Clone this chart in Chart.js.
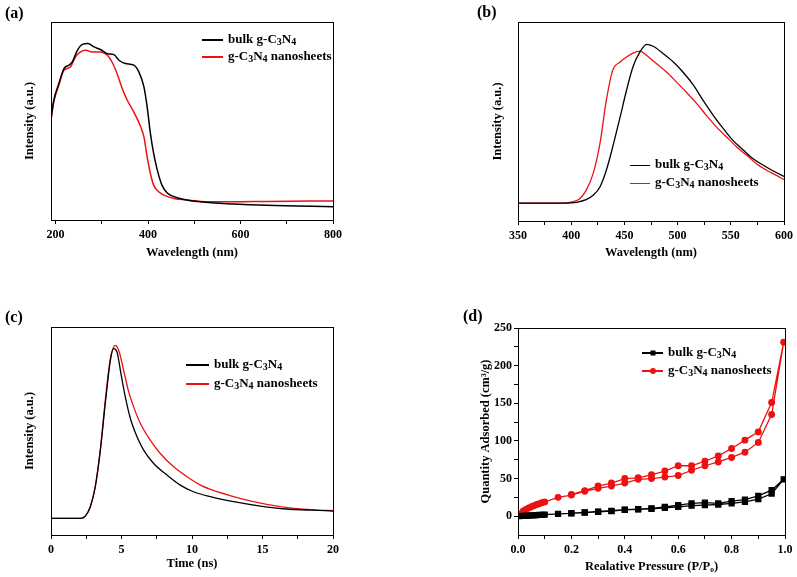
<!DOCTYPE html>
<html>
<head>
<meta charset="utf-8">
<script src="https://cdn.jsdelivr.net/npm/chart.js@4.4.1/dist/chart.umd.min.js"></script>
<style>
  body { margin: 0; background: #fff; }
  #page { position: relative; width: 797px; height: 577px; overflow: hidden; font-family: 'Liberation Serif', 'Times New Roman', serif; font-weight: bold; color: #000; }
  canvas { position: absolute; }
  .tag { position: absolute; font-size: 16px; line-height: 18px; }
  .leg { position: absolute; height: 18px; line-height: 18px; font-size: 13px; white-space: nowrap; }
  .leg .ln { position: relative; display: inline-block; height: 1.6px; margin-right: 5px; vertical-align: middle; }
  .leg .mk { position: absolute; left: 50%; top: 50%; transform: translate(-50%, -50%); }
  .leg sub { font-size: 10px; position: relative; top: 2px; vertical-align: baseline; line-height: 0; }
</style>
</head>
<body>
<div id="page">
  <canvas id="chartA" width="398" height="285" style="left:0;top:0"></canvas>
  <canvas id="chartB" width="399" height="285" style="left:398px;top:0"></canvas>
  <canvas id="chartC" width="398" height="292" style="left:0;top:285px"></canvas>
  <canvas id="chartD" width="399" height="292" style="left:398px;top:285px"></canvas>

  <div class="tag" style="left:5px;top:4px">(a)</div>
  <div class="tag" style="left:477px;top:3px">(b)</div>
  <div class="tag" style="left:5px;top:308px">(c)</div>
  <div class="tag" style="left:463px;top:307px">(d)</div>

  <div class="leg" style="left:202px;top:30px"><span class="ln" style="width:21px;background:#000"></span><span>bulk g-C<sub>3</sub>N<sub>4</sub></span></div>
  <div class="leg" style="left:202px;top:47px"><span class="ln" style="width:21px;background:#ee1111"></span><span>g-C<sub>3</sub>N<sub>4</sub> nanosheets</span></div>

  <div class="leg" style="left:630px;top:155px"><span class="ln" style="width:20px;height:1px;background:#000"></span><span>bulk g-C<sub>3</sub>N<sub>4</sub></span></div>
  <div class="leg" style="left:630px;top:173px"><span class="ln" style="width:20px;height:1px;background:#ee1111"></span><span>g-C<sub>3</sub>N<sub>4</sub> nanosheets</span></div>

  <div class="leg" style="left:186px;top:355px"><span class="ln" style="width:23px;background:#000"></span><span>bulk g-C<sub>3</sub>N<sub>4</sub></span></div>
  <div class="leg" style="left:186px;top:374px"><span class="ln" style="width:23px;background:#ee1111"></span><span>g-C<sub>3</sub>N<sub>4</sub> nanosheets</span></div>

  <div class="leg" style="left:642px;top:343px"><span class="ln" style="width:21px;background:#000"><span class="mk" style="width:5px;height:5px;background:#000"></span></span><span>bulk g-C<sub>3</sub>N<sub>4</sub></span></div>
  <div class="leg" style="left:642px;top:361px"><span class="ln" style="width:21px;background:#ee1111"><span class="mk" style="width:6px;height:6px;border-radius:50%;background:#ee1111"></span></span><span>g-C<sub>3</sub>N<sub>4</sub> nanosheets</span></div>
</div>
<script>
// Colors
const bulkColor = '#000000';
const nanoColor = '#ee1111';
const fontFamily = "'Liberation Serif', 'Times New Roman', serif";

// (a) UV-vis absorption, wavelength (nm) vs normalized intensity
const uvTicks = [200, 300, 400, 500, 600, 700, 800];
const uvBulkX = [190.6, 196, 207, 218, 229, 236, 247, 258, 270, 283, 297, 312, 326, 337, 351, 369, 380, 391, 398, 405, 412, 420, 430, 441, 456, 477, 513, 585, 657, 800];
const uvBulkY = [0.521, 0.605, 0.689, 0.765, 0.782, 0.798, 0.857, 0.887, 0.891, 0.874, 0.861, 0.840, 0.835, 0.807, 0.790, 0.782, 0.748, 0.672, 0.571, 0.437, 0.336, 0.252, 0.176, 0.138, 0.118, 0.104, 0.092, 0.081, 0.074, 0.067];
const uvNanoX = [190.6, 196, 207, 218, 232, 243, 254, 265, 279, 297, 312, 322, 333, 344, 355, 369, 384, 391, 398, 405, 412, 423, 434, 456, 485, 513, 585, 657, 800];
const uvNanoY = [0.513, 0.597, 0.681, 0.756, 0.773, 0.824, 0.849, 0.857, 0.849, 0.849, 0.832, 0.798, 0.739, 0.664, 0.605, 0.546, 0.471, 0.420, 0.319, 0.235, 0.176, 0.143, 0.126, 0.109, 0.101, 0.094, 0.092, 0.094, 0.096];

// (b) PL emission
const plTicks = [350, 375, 400, 425, 450, 475, 500, 525, 550, 575, 600];
const plBulkX = [350, 395.5, 405, 414, 420.6, 427, 433, 439, 446, 452, 458, 464.5, 471, 477, 486.5, 496, 505, 515, 524, 533.5, 543, 552, 562, 571, 580.6, 590, 600];
const plBulkY = [0.090, 0.090, 0.094, 0.107, 0.129, 0.171, 0.255, 0.372, 0.523, 0.657, 0.774, 0.849, 0.888, 0.878, 0.841, 0.799, 0.749, 0.682, 0.606, 0.531, 0.464, 0.405, 0.355, 0.313, 0.280, 0.251, 0.224];
const plNanoX = [350, 392, 402, 408, 414, 420.6, 427, 433, 439, 446, 452, 458, 464.5, 471, 480, 489.6, 499, 508, 518, 527, 536.6, 546, 555.5, 565, 574, 583.7, 593, 600];
const plNanoY = [0.090, 0.090, 0.097, 0.112, 0.154, 0.238, 0.389, 0.606, 0.757, 0.799, 0.824, 0.844, 0.854, 0.832, 0.791, 0.749, 0.698, 0.648, 0.590, 0.531, 0.472, 0.422, 0.372, 0.330, 0.288, 0.255, 0.229, 0.208];

// (c) time-resolved PL decay
const trTicks = [0, 2.5, 5, 7.5, 10, 12.5, 15, 17.5, 20];
const trBulkX = [0, 2.08, 2.43, 2.79, 3.14, 3.5, 3.85, 4.21, 4.44, 4.68, 4.96, 5.27, 5.63, 6.10, 6.57, 7.28, 8.23, 9.17, 10.1, 11.3, 12.95, 14.85, 16.7, 18.4, 20];
const trBulkY = [0.080, 0.080, 0.091, 0.136, 0.232, 0.408, 0.632, 0.840, 0.896, 0.880, 0.776, 0.664, 0.560, 0.472, 0.408, 0.344, 0.288, 0.240, 0.208, 0.184, 0.160, 0.139, 0.125, 0.120, 0.115];
const trNanoX = [0, 2.08, 2.43, 2.79, 3.14, 3.5, 3.85, 4.21, 4.56, 4.80, 5.15, 5.51, 5.86, 6.34, 7.04, 7.75, 8.70, 9.65, 10.6, 11.8, 13.4, 15.3, 17.2, 18.9, 20];
const trNanoY = [0.080, 0.080, 0.091, 0.136, 0.232, 0.411, 0.648, 0.848, 0.912, 0.888, 0.792, 0.688, 0.616, 0.536, 0.456, 0.392, 0.328, 0.280, 0.240, 0.208, 0.176, 0.147, 0.128, 0.120, 0.117];

// (d) N2 isotherms: adsorption branch then desorption branch
const betXTicks = [0, 0.1, 0.2, 0.3, 0.4, 0.5, 0.6, 0.7, 0.8, 0.9, 1.0];
const betYTicks = [0, 25, 50, 75, 100, 125, 150, 175, 200, 225, 250];
const adsP = [0.005, 0.02, 0.03, 0.04, 0.05, 0.06, 0.07, 0.08, 0.09, 0.1, 0.15, 0.2, 0.25, 0.3, 0.35, 0.4, 0.45, 0.5, 0.55, 0.6, 0.65, 0.7, 0.75, 0.8, 0.85, 0.9, 0.95, 0.995];
const desP = [0.95, 0.9, 0.85, 0.8, 0.75, 0.7, 0.65, 0.6, 0.55, 0.5, 0.45, 0.4, 0.35, 0.3, 0.25, 0.2];
const bulkAds = [0, 0.3, 0.5, 0.8, 1, 1.2, 1.4, 1.6, 1.8, 2, 3, 3.6, 4.8, 5.8, 6.8, 8.3, 9, 9.8, 11, 12.4, 14, 14.6, 15.5, 17, 19, 22.5, 30, 49];
const bulkDes = [34.5, 27, 22, 20, 17, 18, 17, 14.6, 12.4, 10.5, 9.5, 8.8, 7.2, 6.2, 5, 4];
const nanoAds = [3, 7, 9, 11, 12.5, 14, 15.5, 16.5, 18, 19, 25, 28, 33, 37, 40, 44, 49, 50, 52, 54, 61, 67, 72, 78, 85, 98, 135, 231];
const nanoDes = [151, 112, 101, 90, 80, 73, 67, 67, 60, 55, 51, 50, 44, 40, 34, 29];

const xy = (xs, ys) => xs.map((x, i) => ({ x, y: ys[i] }));
const near = (v, step) => Math.abs(v / step - Math.round(v / step)) < 1e-6;

// full frame round the plot area
const boxPlugin = {
    id: 'box',
    afterDraw(chart) {
        const { ctx, chartArea: a } = chart;
        ctx.save();
        ctx.strokeStyle = '#000';
        ctx.lineWidth = 1;
        ctx.strokeRect(Math.round(a.left) + 0.5, Math.round(a.top) + 0.5, Math.round(a.right - a.left), Math.round(a.bottom - a.top));
        ctx.restore();
    }
};

function makePanel(id, p) {
    const canvas = document.getElementById(id);
    const w = canvas.width, h = canvas.height;
    const xH = h - p.area.b;
    const tickFont = { family: fontFamily, size: 12, weight: 'bold' };
    const titleFont = { family: fontFamily, size: 12.5, weight: 'bold' };

    const yScale = {
        type: 'linear',
        min: p.yMin, max: p.yMax,
        title: { display: true, text: p.yTitle, color: '#000', font: titleFont, padding: { top: p.yTitleX - 7.5, bottom: 0 } },
        afterFit: s => { s.width = p.area.l; s.paddingTop = 0; s.paddingBottom = 0; }
    };
    if (p.yTicks) {
        yScale.afterBuildTicks = s => { s.ticks = p.yTicks.map(v => ({ value: v })); };
        yScale.ticks = { autoSkip: false, padding: 2, color: '#000', font: tickFont,
            callback: v => near(v, p.yMajor) ? v : '' };
        yScale.grid = { drawOnChartArea: false, tickLength: 4, color: '#000' };
    } else {
        yScale.ticks = { display: false };
        yScale.grid = { display: false };
    }
    yScale.border = { display: false };

    new Chart(canvas.getContext('2d'), {
        type: 'line',
        data: { datasets: p.datasets },
        options: {
            responsive: false,
            animation: false,
            events: [],
            layout: { padding: { left: 0, top: p.area.t, right: w - p.area.r, bottom: 0 } },
            plugins: { legend: { display: false }, tooltip: { enabled: false } },
            scales: {
                x: {
                    type: 'linear',
                    min: p.xMin, max: p.xMax,
                    afterBuildTicks: s => { s.ticks = p.xTicks.map(v => ({ value: v })); },
                    ticks: { autoSkip: false, maxRotation: 0, padding: 4, color: '#000', font: tickFont,
                        callback: v => near(v, p.xMajor) ? p.xFmt(v) : '' },
                    grid: { drawOnChartArea: false, tickLength: 4, color: '#000' },
                    border: { display: false },
                    title: { display: true, text: p.xTitle, color: '#000', font: titleFont, padding: { top: 0, bottom: h - p.xTitleY - 7.5 } },
                    afterFit: s => { s.height = xH; s.paddingLeft = 0; s.paddingRight = 0; }
                },
                y: yScale
            }
        },
        plugins: [boxPlugin]
    });
}

const curve = (data, color, width) => ({
    data, borderColor: color, borderWidth: width, pointRadius: 0,
    cubicInterpolationMode: 'monotone', fill: false
});

makePanel('chartA', {
    area: { l: 51, t: 22, r: 333, b: 220 },
    xMin: 190, xMax: 800, xTicks: uvTicks, xMajor: 200, xFmt: v => v,
    yMin: 0, yMax: 1,
    xTitle: 'Wavelength (nm)', xTitleY: 253,
    yTitle: 'Intensity (a.u.)', yTitleX: 30,
    datasets: [curve(xy(uvBulkX, uvBulkY), bulkColor, 1.5), curve(xy(uvNanoX, uvNanoY), nanoColor, 1.5)]
});

makePanel('chartB', {
    area: { l: 120, t: 22, r: 386, b: 221 },
    xMin: 350, xMax: 600, xTicks: plTicks, xMajor: 50, xFmt: v => v,
    yMin: 0, yMax: 1,
    xTitle: 'Wavelength (nm)', xTitleY: 253,
    yTitle: 'Intensity (a.u.)', yTitleX: 100,
    datasets: [curve(xy(plBulkX, plBulkY), bulkColor, 1.3), curve(xy(plNanoX, plNanoY), nanoColor, 1.3)]
});

makePanel('chartC', {
    area: { l: 51, t: 42, r: 333, b: 250 },
    xMin: 0, xMax: 20, xTicks: trTicks, xMajor: 5, xFmt: v => v,
    yMin: 0, yMax: 1,
    xTitle: 'Time (ns)', xTitleY: 279,
    yTitle: 'Intensity (a.u.)', yTitleX: 30,
    datasets: [curve(xy(trBulkX, trBulkY), bulkColor, 1.3), curve(xy(trNanoX, trNanoY), nanoColor, 1.3)]
});

makePanel('chartD', {
    area: { l: 120, t: 43, r: 387, b: 250 },
    xMin: 0, xMax: 1, xTicks: betXTicks, xMajor: 0.2, xFmt: v => v.toFixed(1),
    yMin: -25, yMax: 250, yTicks: betYTicks, yMajor: 50,
    xTitle: 'Realative Pressure (P/P\u2080)', xTitleY: 282,
    yTitle: 'Quantity Adsorbed (cm\u00b3/g)', yTitleX: 88,
    datasets: [
        { data: xy(adsP.concat(desP), bulkAds.concat(bulkDes)), borderColor: bulkColor, backgroundColor: bulkColor,
          borderWidth: 1.3, pointStyle: 'rect', pointRadius: 3.5, tension: 0 },
        { data: xy(adsP.concat(desP), nanoAds.concat(nanoDes)), borderColor: nanoColor, backgroundColor: nanoColor,
          borderWidth: 1.3, pointStyle: 'circle', pointRadius: 2.8, tension: 0 }
    ]
});
</script>
</body>
</html>
